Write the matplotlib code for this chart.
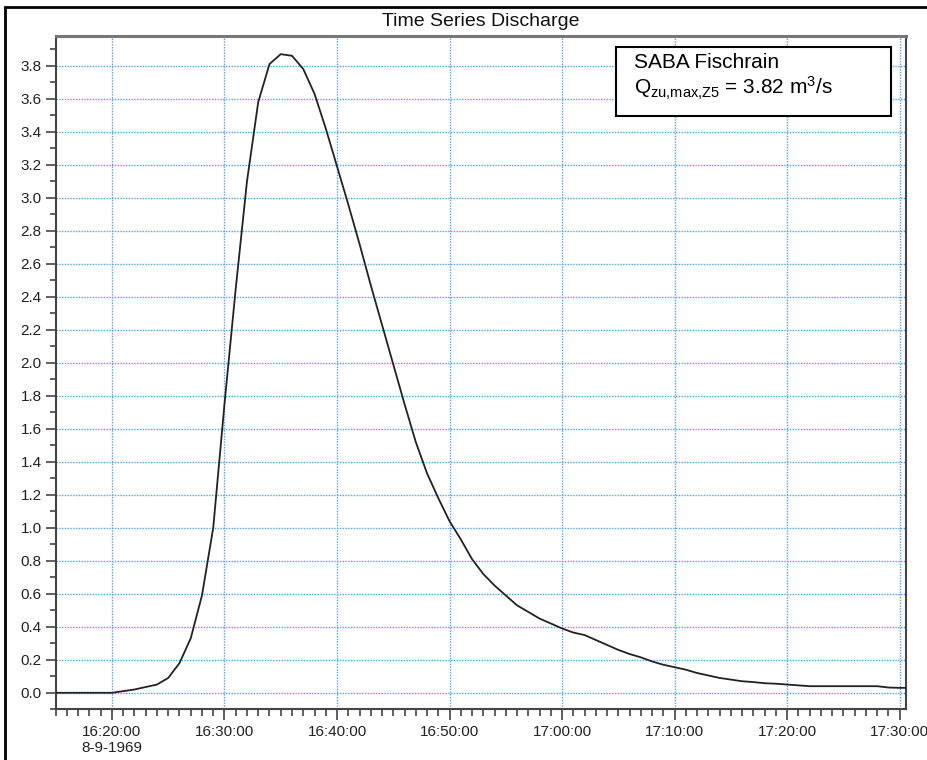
import numpy as np
import pandas as pd
import matplotlib
matplotlib.use("Agg")
import matplotlib.pyplot as plt
import matplotlib.dates as mdates
from matplotlib.patches import Rectangle
from matplotlib.ticker import MultipleLocator, FuncFormatter

plt.rcParams['font.family'] = ['Liberation Sans', 'DejaVu Sans']
plt.rcParams['mathtext.fontset'] = 'custom'
plt.rcParams['mathtext.rm'] = 'Liberation Sans'
plt.rcParams['mathtext.default'] = 'regular'

# discharge in m3/s, one value per minute from 16:15 to 17:31
start_time = "1969-09-08 16:15:00"
discharge = [
    0.0, 0.0, 0.0, 0.0, 0.0, 0.0,                 # 16:15 - 16:20
    0.01, 0.02, 0.035, 0.05, 0.09, 0.18, 0.33,    # 16:21 - 16:27
    0.59, 1.0, 1.75, 2.45, 3.1, 3.58, 3.81,       # 16:28 - 16:34
    3.87, 3.86, 3.78, 3.63, 3.42, 3.19, 2.96,     # 16:35 - 16:41
    2.72, 2.47, 2.23, 1.99, 1.75, 1.52, 1.33,     # 16:42 - 16:48
    1.18, 1.04, 0.93, 0.81, 0.72, 0.65, 0.59,     # 16:49 - 16:55
    0.53, 0.49, 0.45, 0.42, 0.39, 0.365, 0.35,    # 16:56 - 17:02
    0.32, 0.29, 0.26, 0.235, 0.215, 0.19, 0.17,   # 17:03 - 17:09
    0.155, 0.14, 0.12, 0.105, 0.09, 0.08, 0.07,   # 17:10 - 17:16
    0.065, 0.058, 0.055, 0.05, 0.045, 0.04, 0.04, # 17:17 - 17:23
    0.04, 0.04, 0.04, 0.04, 0.04, 0.032, 0.03,    # 17:24 - 17:30
    0.03,                                         # 17:31
]
times = pd.date_range(start_time, periods=len(discharge), freq="1min")

title = "Time Series Discharge"
box_line1 = "SABA Fischrain"
box_line2 = r"Q$_{zu{,}max{,}Z5}$ = 3.82 m$^{3}$/s"
date_label = "8-9-1969"

W, H = 928, 760
fig = plt.figure(figsize=(W / 100, H / 100), dpi=100)
ax = fig.add_axes([55.7 / W, 1 - 709.3 / H, (906 - 55.7) / W, (709.3 - 36) / H])

ax.plot(times, discharge, color="#222222", lw=1.3, zorder=3)

ax.set_xlim(pd.Timestamp("1969-09-08 16:15:00"), pd.Timestamp("1969-09-08 17:30:34"))
ax.set_ylim(-0.1, 3.98)

ax.yaxis.set_major_locator(MultipleLocator(0.2))
ax.yaxis.set_minor_locator(MultipleLocator(0.1))
ax.yaxis.set_major_formatter(FuncFormatter(lambda v, p: f"{v:.1f}"))

ax.xaxis.set_major_locator(mdates.MinuteLocator(byminute=range(0, 60, 10)))
ax.xaxis.set_minor_locator(mdates.MinuteLocator())


def fmt_time(v, pos):
    d = mdates.num2date(v)
    s = d.strftime("%H:%M:%S")
    if d.hour == 16 and d.minute == 20:
        s += "\n" + date_label
    return s


ax.xaxis.set_major_formatter(FuncFormatter(fmt_time))

ax.grid(True, which="major", color="#4da3f5", linestyle=(0, (1, 1)), lw=1.0)
ax.set_axisbelow(True)

ax.tick_params(axis="both", which="major", labelsize=11, colors="#444444",
               labelcolor="#222222", width=1.2)
ax.tick_params(axis="y", which="major", length=7, pad=3)
ax.tick_params(axis="y", which="minor", length=4, width=1.2, colors="#444444")
ax.tick_params(axis="x", which="major", length=8, pad=3)
ax.tick_params(axis="x", which="minor", length=5, width=1.2, colors="#444444")
for lbl in ax.get_xticklabels():
    lbl.set_multialignment("center")

for side in ["left", "bottom", "right"]:
    ax.spines[side].set_color("#444444")
    ax.spines[side].set_linewidth(1.5)
ax.spines["top"].set_color("#777777")
ax.spines["top"].set_linewidth(2.2)

fig.text(480.9 / W, 1 - 22 / H, title, ha="center", va="center",
         fontsize=14, color="#111111")

# annotation box
fig.patches.append(Rectangle((615.7 / W, 1 - 116 / H), (891.3 - 615.7) / W, (116 - 46.7) / H,
                             transform=fig.transFigure, facecolor="white",
                             edgecolor="black", lw=1.5, zorder=5))
fig.text(634 / W, 1 - 63 / H, box_line1, ha="left", va="center", fontsize=15, zorder=6)
fig.text(634 / W, 1 - 88 / H, box_line2, ha="left", va="center", fontsize=15, zorder=6)

# outer frame (partly cut off at the right and bottom)
fig.patches.append(Rectangle((5 / W, -0.05), 1.0, 1 - 7 / H + 0.05,
                             transform=fig.transFigure, facecolor="none",
                             edgecolor="black", lw=2.0, zorder=10))

fig.savefig("out.png", dpi=100)
